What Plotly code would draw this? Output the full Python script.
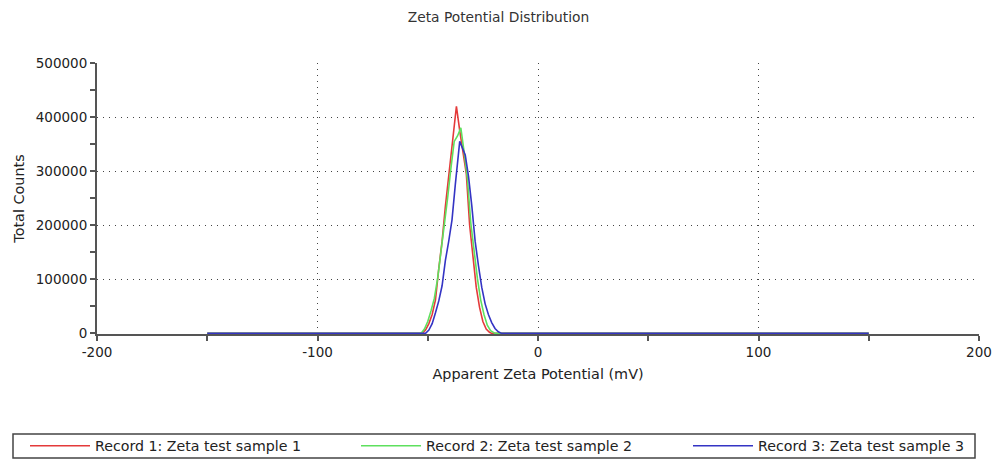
import plotly.graph_objects as go

# Zeta potential distributions (mV vs total counts) for three records
record_names = [
    "Record 1: Zeta test sample 1",
    "Record 2: Zeta test sample 2",
    "Record 3: Zeta test sample 3",
]

zeta_r1 = [-150, -52.5, -51, -49.5, -48, -46.5, -45, -43.5, -42, -40.5, -39, -37,
           -35.5, -34, -32.5, -31, -29.5, -28, -26.5, -25, -23.5, -22, -21, 150]
counts_r1 = [0, 0, 6000, 18000, 35000, 62000, 120000, 170000, 235000, 290000, 345000, 420000,
             375000, 335000, 295000, 200000, 145000, 85000, 48000, 22000, 8000, 2000, 0, 0]

zeta_r2 = [-150, -53, -51.5, -50, -48.5, -47, -45.5, -44, -42.5, -41, -39.5, -38, -36.5,
           -35, -33.5, -32, -30.5, -29, -27.5, -26, -24.5, -23, -21.5, -19.5, 150]
counts_r2 = [0, 0, 8000, 22000, 42000, 65000, 102000, 150000, 195000, 250000, 305000, 355000, 365000,
             380000, 335000, 285000, 205000, 150000, 102000, 62000, 35000, 15000, 5000, 0, 0]

zeta_r3 = [-150, -51, -49.5, -48, -46.5, -45, -43.5, -42, -40.5, -39, -37.5, -35.5, -33,
           -31.5, -30, -28.5, -27, -25.5, -24, -22.5, -21, -19.5, -18, -16.5, 150]
counts_r3 = [0, 0, 6000, 18000, 38000, 60000, 88000, 135000, 170000, 210000, 275000, 355000, 330000,
             290000, 235000, 170000, 125000, 85000, 55000, 35000, 20000, 9000, 3000, 0, 0]

line_colors = ["#e43a3a", "#5ee05e", "#3434c4"]

x_ticks = [-200, -100, 0, 100, 200]
y_ticks = [0, 100000, 200000, 300000, 400000, 500000]

FONT = "DejaVu Sans"
AXIS_COLOR = "#555555"
GRID_COLOR = "#444444"
W, H = 997, 461
M_L, M_R, M_T, M_B = 97, 18, 63, 127
PLOT_W = W - M_L - M_R
PLOT_H = H - M_T - M_B

# one legend per record so the entries sit in a single wide row under the chart
legend_ids = ["legend", "legend2", "legend3"]
legend_left_px = [25, 356, 688]
legend_row_px = 446

fig = go.Figure()
for name, xs, ys, color, lid in zip(record_names,
                                    [zeta_r1, zeta_r2, zeta_r3],
                                    [counts_r1, counts_r2, counts_r3],
                                    line_colors, legend_ids):
    fig.add_trace(go.Scatter(x=xs, y=ys, mode="lines", name=name, legend=lid,
                             line=dict(color=color, width=1.6)))

legend_common = dict(orientation="h", xref="container", xanchor="left",
                     yref="container", yanchor="middle", itemwidth=60,
                     bgcolor="rgba(0,0,0,0)", borderwidth=0,
                     font=dict(family=FONT, size=14.2, color="#222222"))
legend_layout = {
    lid: dict(legend_common, x=lx / W, y=1 - legend_row_px / H)
    for lid, lx in zip(legend_ids, legend_left_px)
}

fig.update_layout(
    width=W, height=H,
    margin=dict(l=M_L, r=M_R, t=M_T, b=M_B, autoexpand=False),
    paper_bgcolor="white", plot_bgcolor="white",
    font=dict(family=FONT, size=13, color="#222222"),
    title=dict(text="Zeta Potential Distribution", x=0.5, xanchor="center",
               xref="container", y=1 - 17 / H, yref="container", yanchor="middle",
               font=dict(family=FONT, size=13.8, color="#333333")),
    showlegend=True,
    **legend_layout,
)

# frame around the legend row
fig.add_shape(type="rect", xref="paper", yref="paper",
              x0=(13 - M_L) / PLOT_W, x1=(975 - M_L) / PLOT_W,
              y0=(M_T + PLOT_H - 458) / PLOT_H, y1=(M_T + PLOT_H - 434) / PLOT_H,
              line=dict(color="#444444", width=1.5), fillcolor="rgba(0,0,0,0)",
              layer="below")

fig.update_xaxes(
    range=[-200, 200], tickvals=x_ticks, ticktext=[str(v) for v in x_ticks],
    showline=True, linecolor=AXIS_COLOR, linewidth=2, layer="below traces",
    ticks="outside", ticklen=5, tickcolor=AXIS_COLOR, tickwidth=1.5,
    minor=dict(dtick=50, tick0=0, ticks="outside", ticklen=5,
               tickcolor=AXIS_COLOR, tickwidth=1.5, showgrid=False),
    showgrid=True, gridcolor=GRID_COLOR, gridwidth=1, griddash="1px,5px",
    zeroline=False,
    tickfont=dict(family=FONT, size=13.5, color="#222222"),
    title=dict(text="Apparent Zeta Potential (mV)", standoff=10,
               font=dict(family=FONT, size=14.4, color="#222222")),
)

# a small pad below zero keeps the baseline traces visible on the axis line
fig.update_yaxes(
    range=[-1200, 500000], tickvals=y_ticks, ticktext=[str(v) for v in y_ticks],
    showline=True, linecolor=AXIS_COLOR, linewidth=2, layer="below traces",
    ticks="outside", ticklen=5, tickcolor=AXIS_COLOR, tickwidth=1.5,
    minor=dict(dtick=50000, tick0=0, ticks="outside", ticklen=5,
               tickcolor=AXIS_COLOR, tickwidth=1.5, showgrid=False),
    showgrid=True, gridcolor=GRID_COLOR, gridwidth=1, griddash="1px,5px",
    zeroline=False,
    tickfont=dict(family=FONT, size=13.5, color="#222222"),
    title=dict(text="Total Counts", standoff=8,
               font=dict(family=FONT, size=14.4, color="#222222")),
)

fig.write_html("out.html")
